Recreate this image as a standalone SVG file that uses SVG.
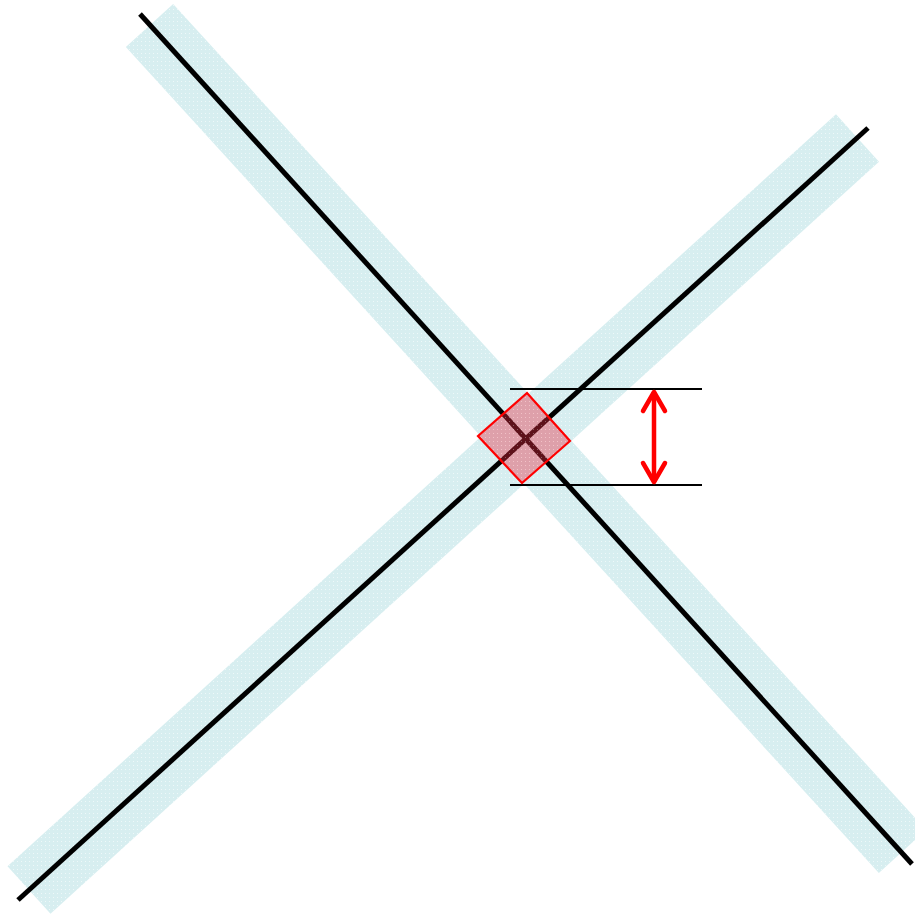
<svg xmlns="http://www.w3.org/2000/svg" width="915" height="915" viewBox="0 0 915 915">
<style>
.band{stroke-width:64;stroke-linecap:butt;fill:none}
.axis{stroke:#000;stroke-width:5;stroke-linecap:butt;fill:none}
.ref{stroke:#000;stroke-width:2.2;fill:none}
.dim{stroke:#ff0000;stroke-width:4.5;fill:none}
</style>
<defs>
<pattern id="dots" width="4" height="4" patternUnits="userSpaceOnUse">
<rect width="4" height="4" fill="#d7eef0"/>
<rect x="1" y="1" width="1" height="1" fill="#eef8f9"/>
</pattern>
<pattern id="pink" width="4" height="4" patternUnits="userSpaceOnUse">
<rect width="4" height="4" fill="#e82a40" fill-opacity="0.4"/>
<rect x="1" y="1" width="1" height="1" fill="#ffffff" fill-opacity="0.3"/>
</pattern>
<marker id="chev" viewBox="-25 -15 30 30" markerWidth="30" markerHeight="30" refX="0" refY="0" markerUnits="userSpaceOnUse" orient="auto-start-reverse" overflow="visible">
<path d="M-19,-11 L0,0 L-19,11" fill="none" stroke="#ff0000" stroke-width="4.5" stroke-linecap="round" stroke-linejoin="round"/>
</marker>
</defs>
<rect width="915" height="915" fill="#fff"/>
<g id="band-nw-se"><line class="band" stroke="url(#dots)" x1="149.5" y1="25.5" x2="902.5" y2="851.5"/></g>
<g id="band-sw-ne"><line class="band" stroke="url(#dots)" x1="29" y1="890" x2="857.5" y2="138"/></g>
<g id="connectors">
<line class="axis" x1="140" y1="14" x2="912" y2="864"/>
<line class="axis" x1="18" y1="900" x2="868" y2="128"/>
<line class="ref" x1="510" y1="389" x2="702" y2="389"/>
<line class="ref" x1="510" y1="485" x2="702" y2="485"/>
<line class="dim" x1="654" y1="392" x2="654" y2="482" marker-start="url(#chev)" marker-end="url(#chev)"/>
</g>
<g id="intersection"><polygon points="527,393 570,441 522,483 478,436" fill="url(#pink)" stroke="#ff0000" stroke-width="2.2"/></g>
</svg>
